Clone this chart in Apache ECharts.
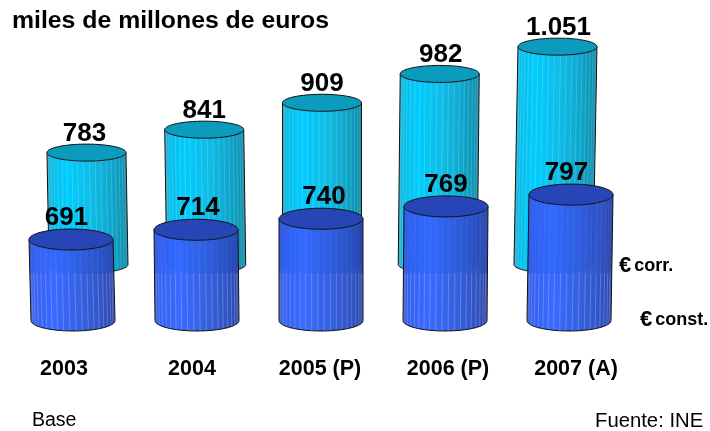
<!DOCTYPE html>
<html>
<head>
<meta charset="utf-8">
<style>
    html, body { margin: 0; padding: 0; background: #fff; }
    #chart { width: 710px; height: 431px; }
</style>
<script src="https://cdn.jsdelivr.net/npm/echarts@6/dist/echarts.min.js"></script>
</head>
<body>
<div id="chart"></div>
<script>
// MARK: - Data

const years = ['2003', '2004', '2005 (P)', '2006 (P)', '2007 (A)'];
const corrientes = [783, 841, 909, 982, 1051];
const constantes = [691, 714, 740, 769, 797];

// MARK: - Layout

const FONT = '"Liberation Sans", Arial, sans-serif';
const AXIS_MIN = 500;

const cyanStyle = {
    rx: 39.5,
    ry: 8.5,
    lean: [2, 2, 0, -2, -4],
    labelDx: [-2, 0, 0, 1, 1],
    labelDy: 19,
    top: '#0a9bbd',
    opacity: 1,
    stripe: ['rgba(255,255,255,0.17)', 'rgba(255,255,255,0.17)'],
    body: [
        [0, '#2aa6c6'], [0.06, '#08bde8'], [0.25, '#00ccff'],
        [0.55, '#10bce6'], [0.8, '#0ea6cc'], [1, '#0f8aa8'],
    ],
};

const blueStyle = {
    rx: 42,
    ry: 10.5,
    lean: [2, 1, 0, -1, -2],
    labelDx: [-4.5, 2, 3, 0, -4.5],
    labelDy: 21.5,
    top: '#2845b8',
    opacity: 0.97,
    stripe: ['rgba(255,255,255,0.06)', 'rgba(255,255,255,0.22)'],
    stripeSplit: 47, // where the cyan cylinder behind stops, measured up from the base
    body: [
        [0, '#2a4fd0'], [0.06, '#2e5cf0'], [0.3, '#3366ff'],
        [0.6, '#2f5ce0'], [0.85, '#2a4fc4'], [1, '#2440a8'],
    ],
};

function formatValue(v) {
    return String(v).replace(/\B(?=(\d{3})+$)/g, '.');
}

function ellipseArc(cx, cy, rx, ry, from, to, steps) {
    let points = [];
    for (let s = 0; s <= steps; s++) {
        let a = from + (to - from) * s / steps;
        points.push([cx + rx * Math.cos(a), cy + ry * Math.sin(a)]);
    }
    return points;
}

function cylinderRenderer(style) {
    return function (params, api) {
        let i = api.value(0);
        let value = api.value(1);
        let [cx, topY] = api.coord([i, value]);
        let baseY = api.coord([i, AXIS_MIN])[1];
        let baseX = cx + style.lean[i];

        let bottomArc = ellipseArc(baseX, baseY, style.rx, style.ry, Math.PI, 0, 40);
        let topArc = ellipseArc(cx, topY, style.rx, style.ry, 0, Math.PI, 40);
        let children = [{
            type: 'polygon',
            shape: { points: bottomArc.concat(topArc) },
            style: {
                fill: {
                    type: 'linear', x: 0, y: 0, x2: 1, y2: 0,
                    colorStops: style.body.map(([offset, color]) => ({ offset, color })),
                },
                opacity: style.opacity,
            },
        }];

        // vertical stripes, spaced like ribs around the cylinder
        let ribs = 21;
        for (let r = 1; r < ribs; r++) {
            let a = Math.PI * r / ribs;
            let x1 = cx + style.rx * Math.cos(a);
            let y1 = topY + style.ry * Math.sin(a);
            let x2 = baseX + style.rx * Math.cos(a);
            let y2 = baseY + style.ry * Math.sin(a);
            let splitY = style.stripeSplit ? baseY - style.stripeSplit : y1;
            let xs = x1 + (x2 - x1) * (splitY - y1) / (y2 - y1);
            children.push({
                type: 'line',
                shape: { x1: x1, y1: y1, x2: xs, y2: splitY },
                style: { stroke: style.stripe[0], lineWidth: 1 },
            });
            children.push({
                type: 'line',
                shape: { x1: xs, y1: splitY, x2: x2, y2: y2 },
                style: { stroke: style.stripe[1], lineWidth: 1 },
            });
        }

        // outline: two sides and lower rim, then the top cap
        children.push({
            type: 'polyline',
            shape: { points: [[cx - style.rx, topY]].concat(bottomArc, [[cx + style.rx, topY]]) },
            style: { stroke: '#111', lineWidth: 1, fill: null },
        });
        children.push({
            type: 'ellipse',
            shape: { cx: cx, cy: topY, rx: style.rx, ry: style.ry },
            style: { fill: style.top, stroke: '#111', lineWidth: 1 },
        });
        children.push({
            type: 'text',
            style: {
                text: formatValue(value),
                x: cx + style.labelDx[i],
                y: topY - style.labelDy,
                align: 'center',
                verticalAlign: 'middle',
                font: 'bold 26px ' + FONT,
                fill: '#000',
            },
        });
        return { type: 'group', children: children };
    };
}

function hiddenCategory(gridIndex) {
    return { gridIndex: gridIndex, type: 'category', data: years, show: false };
}

function unitLabel(text, left, top) {
    return {
        type: 'text',
        left: left,
        top: top,
        style: {
            text: '{e|€}{t|' + text + '}',
            rich: {
                e: { font: 'bold 22px ' + FONT, fill: '#000', padding: [0, 3, 0, 0] },
                t: { font: 'bold 18px ' + FONT, fill: '#000' },
            },
        },
    };
}

let chart = echarts.init(document.getElementById('chart'), null, { renderer: 'canvas' });

let option = {
    animation: false,
    backgroundColor: '#fff',
    title: {
        text: 'miles de millones de euros',
        left: 12,
        top: 9,
        padding: 0,
        textStyle: { fontFamily: FONT, fontWeight: 'bold', fontSize: 24.8, color: '#000' },
    },
    grid: [
        { left: 27.6, width: 588.75, top: 7.5, height: 257 },
        { left: 8.5, width: 625, top: 108.5, height: 212 },
        { left: 0, width: 640, top: 300, height: 50 },
    ],
    xAxis: [
        hiddenCategory(0),
        hiddenCategory(1),
        {
            gridIndex: 2,
            type: 'category',
            data: years,
            axisLine: { show: false },
            axisTick: { show: false },
            axisLabel: {
                interval: 0,
                margin: 8,
                fontFamily: FONT,
                fontWeight: 'bold',
                fontSize: 21.5,
                color: '#000',
            },
        },
    ],
    yAxis: [
        { gridIndex: 0, type: 'value', min: AXIS_MIN, max: 1150, show: false },
        { gridIndex: 1, type: 'value', min: AXIS_MIN, max: 1000, show: false },
        { gridIndex: 2, type: 'value', show: false },
    ],
    series: [
        {
            type: 'custom',
            name: '€ corr.',
            xAxisIndex: 0,
            yAxisIndex: 0,
            z: 2,
            clip: false,
            renderItem: cylinderRenderer(cyanStyle),
            data: corrientes.map((v, i) => [i, v]),
        },
        {
            type: 'custom',
            name: '€ const.',
            xAxisIndex: 1,
            yAxisIndex: 1,
            z: 3,
            clip: false,
            renderItem: cylinderRenderer(blueStyle),
            data: constantes.map((v, i) => [i, v]),
        },
    ],
    graphic: [
        unitLabel('corr.', 619, 255),
        unitLabel('const.', 640, 309),
        { type: 'text', left: 32, top: 411, style: { text: 'Base', font: '19.5px ' + FONT, fill: '#000' } },
        { type: 'text', left: 595, top: 411, style: { text: 'Fuente: INE', font: '20.3px ' + FONT, fill: '#000' } },
    ],
};

chart.setOption(option);
</script>
</body>
</html>
